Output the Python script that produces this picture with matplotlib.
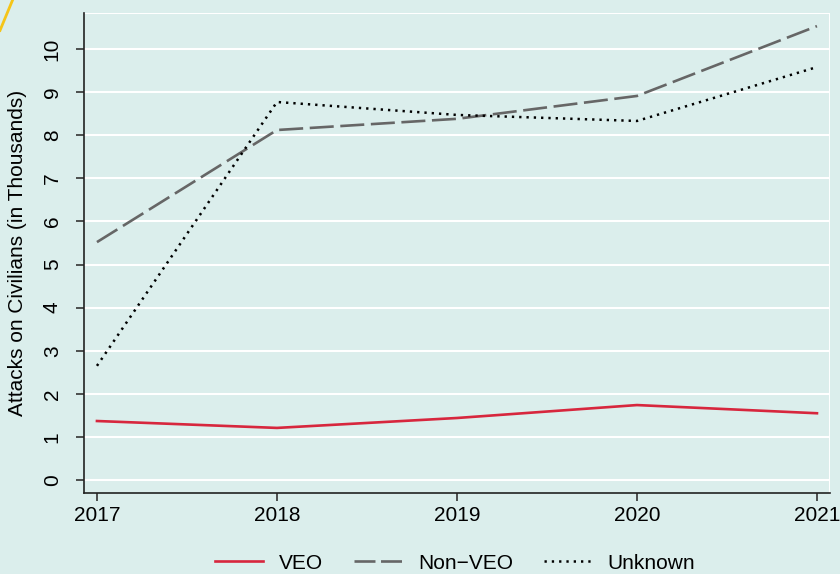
import matplotlib
matplotlib.use("Agg")
import matplotlib.pyplot as plt
from matplotlib.lines import Line2D

years = [2017, 2018, 2019, 2020, 2021]
veo = [1.37, 1.21, 1.44, 1.74, 1.55]
non_veo = [5.52, 8.12, 8.38, 8.91, 10.53]
unknown = [2.65, 8.77, 8.47, 8.33, 9.58]
yticks = list(range(0, 11))
labels = ['VEO', 'Non\u2212VEO', 'Unknown']

plt.rcParams['font.family'] = ['Liberation Sans', 'DejaVu Sans']
bg = '#dbeeec'
fs = 15
red, grey = '#d7263d', '#666666'
fig = plt.figure(figsize=(8.4, 5.74), dpi=100, facecolor=bg)
ax = fig.add_axes([0.1, 0.1411, 0.888, 0.8363], facecolor=bg)

for y in yticks:
    ax.axhline(y, color='white', lw=1.5, zorder=0)
ax.axhline(10.835, color='white', lw=1.5, zorder=0)
ax.axvline(2021.072, color='white', lw=1.5, zorder=0)

ax.plot(years, veo, color=red, lw=1.9)
ax.plot(years, non_veo, color=grey, lw=1.9, dashes=(9.1, 2.5))
ax.plot(years, unknown, color='black', lw=1.8, dashes=(0.92, 2.0))

ax.set_xlim(2016.928, 2021.072)
ax.set_ylim(-0.3, 10.835)
ax.set_xticks(years)
ax.set_yticks(yticks)
ax.set_yticklabels([str(v) for v in yticks], rotation=90, va='center')
ax.tick_params(axis='both', labelsize=fs, length=6, width=1.2, color='#333333', direction='out')
ax.tick_params(axis='y', pad=10)
ax.tick_params(axis='x', pad=3)
for s in ['top', 'right']:
    ax.spines[s].set_visible(False)
for s in ['left', 'bottom']:
    ax.spines[s].set_linewidth(1.2)
    ax.spines[s].set_color('#222222')
ax.set_ylabel('Attacks on Civilians (in Thousands)', fontsize=fs, labelpad=11)

handles = [
    Line2D([], [], color=red, lw=1.9),
    Line2D([], [], color=grey, lw=1.9, dashes=(7.95, 2.1)),
    Line2D([], [], color='black', lw=1.8, dashes=(0.92, 2.0)),
]
leg = fig.legend(handles, labels, loc='center', bbox_to_anchor=(0.542, 0.019), ncol=3, frameon=False,
                 fontsize=fs, handlelength=2.3, columnspacing=1.5, handletextpad=0.75,
                 borderpad=0, borderaxespad=0)

fig.add_artist(Line2D([0.0, 0.015], [0.947, 1.0], color='#f5c518', lw=2.0, transform=fig.transFigure))

fig.savefig('out.png', dpi=100, facecolor=bg)
